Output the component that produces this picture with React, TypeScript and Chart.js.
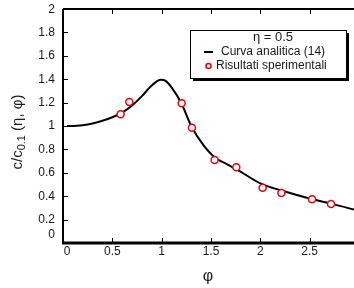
import React, { useEffect, useRef } from "react";
import { Chart, registerables } from "chart.js";

Chart.register(...registerables);

const curveX = [0.04, 0.1, 0.2, 0.3, 0.4, 0.5, 0.6, 0.7, 0.8, 0.88, 0.94, 0.99, 1.04, 1.1, 1.2, 1.3, 1.42, 1.54, 1.66, 1.76, 2.0, 2.25, 2.5, 2.75, 2.95];
const curveY = [1.0, 1.0, 1.007, 1.022, 1.045, 1.075, 1.115, 1.175, 1.255, 1.33, 1.375, 1.395, 1.385, 1.33, 1.195, 1.0, 0.84, 0.73, 0.675, 0.63, 0.51, 0.44, 0.38, 0.33, 0.285];

const expX = [0.584, 0.672, 1.203, 1.307, 1.537, 1.757, 2.024, 2.214, 2.525, 2.717];
const expY = [1.1, 1.205, 1.194, 0.986, 0.709, 0.647, 0.473, 0.427, 0.373, 0.333];

const xTicks = [0, 0.5, 1, 1.5, 2, 2.5];
const xTickLabels = ["0", "0.5", "1", "1.5", "2", "2.5"];
const yTicks = [0, 0.2, 0.4, 0.6, 0.8, 1, 1.2, 1.4, 1.6, 1.8, 2];
const yTickLabels = ["0", "0.2", "0.4", "0.6", "0.8", "1", "1.2", "1.4", "1.6", "1.8", "2"];

const legendTitle = "η = 0.5";
const seriesNames = ["Curva analitica (14)", "Risultati sperimentali"];

const FONT = "'Liberation Sans', Arial, sans-serif";
const TXT = "#1a1a1a";

const framePlugin = {
  id: "frame",
  afterDraw(chart: any) {
    const ctx = chart.ctx;
    const xs = chart.scales.x;
    const ys = chart.scales.y;
    const a = chart.chartArea;
    ctx.save();
    // axes
    ctx.strokeStyle = "#000";
    ctx.lineWidth = 2;
    ctx.beginPath();
    ctx.moveTo(a.left, a.top);
    ctx.lineTo(a.right, a.top);
    ctx.stroke();
    ctx.beginPath();
    ctx.moveTo(a.left, a.top);
    ctx.lineTo(a.left, a.bottom);
    ctx.stroke();
    ctx.lineWidth = 3;
    ctx.beginPath();
    ctx.moveTo(a.left - 1, a.bottom);
    ctx.lineTo(a.right, a.bottom);
    ctx.stroke();
    // inward ticks
    ctx.lineWidth = 1;
    xTicks.forEach((v) => {
      if (v === 0) return;
      const px = Math.round(xs.getPixelForValue(v)) + 0.5;
      ctx.beginPath();
      ctx.moveTo(px, a.bottom);
      ctx.lineTo(px, a.bottom - 5);
      ctx.moveTo(px, a.top);
      ctx.lineTo(px, a.top + 5);
      ctx.stroke();
    });
    yTicks.forEach((v) => {
      if (v === 0 || v === 2) return;
      const py = Math.round(ys.getPixelForValue(v)) + 0.5;
      ctx.beginPath();
      ctx.moveTo(a.left, py);
      ctx.lineTo(a.left + 5, py);
      ctx.stroke();
    });
    // tick labels
    ctx.fillStyle = TXT;
    ctx.font = `12px ${FONT}`;
    ctx.textAlign = "center";
    ctx.textBaseline = "middle";
    xTicks.forEach((v, i) => {
      const px = xs.getPixelForValue(v) + (v === 0 ? 4 : 0);
      ctx.fillText(xTickLabels[i], px, a.bottom + 9);
    });
    ctx.textAlign = "right";
    yTicks.forEach((v, i) => {
      const py = ys.getPixelForValue(v) + (v === 0 ? -8 : v === 2 ? 1 : 0);
      ctx.fillText(yTickLabels[i], a.left - 8, py);
    });
    // x title
    ctx.font = `16px ${FONT}`;
    ctx.textAlign = "center";
    ctx.fillText("φ", 208, 277);
    // y title rotated with subscript
    ctx.save();
    ctx.translate(17, 132);
    ctx.rotate(-Math.PI / 2);
    const big = `15px ${FONT}`;
    const small = `11px ${FONT}`;
    const p1 = "c/c";
    const p2 = "0.1";
    const p3 = " (η, φ)";
    ctx.font = big;
    const w1 = ctx.measureText(p1).width;
    const w3 = ctx.measureText(p3).width;
    ctx.font = small;
    const w2 = ctx.measureText(p2).width;
    const total = w1 + w2 + w3;
    let x0 = -total / 2;
    ctx.textAlign = "left";
    ctx.textBaseline = "alphabetic";
    ctx.font = big;
    ctx.fillText(p1, x0, 5);
    x0 += w1;
    ctx.font = small;
    ctx.fillText(p2, x0, 8);
    x0 += w2;
    ctx.font = big;
    ctx.fillText(p3, x0, 5);
    ctx.restore();
    // legend
    const lx = 190, ly = 30, lw = 156, lh = 48;
    ctx.fillStyle = "#000";
    ctx.fillRect(lx + 3, ly + 3, lw, lh);
    ctx.fillStyle = "#fff";
    ctx.fillRect(lx, ly, lw, lh);
    ctx.strokeStyle = "#000";
    ctx.lineWidth = 1;
    ctx.strokeRect(lx + 0.5, ly + 0.5, lw, lh);
    ctx.fillStyle = TXT;
    ctx.textBaseline = "middle";
    ctx.textAlign = "center";
    ctx.font = `13px ${FONT}`;
    ctx.fillText(legendTitle, 273, 37);
    ctx.textAlign = "left";
    ctx.font = `12px ${FONT}`;
    ctx.fillText(seriesNames[0], 221, 52);
    ctx.fillText(seriesNames[1], 216, 66);
    ctx.strokeStyle = "#000";
    ctx.lineWidth = 2;
    ctx.beginPath();
    ctx.moveTo(204, 52);
    ctx.lineTo(213, 52);
    ctx.stroke();
    ctx.strokeStyle = "#e00";
    ctx.lineWidth = 1.5;
    ctx.beginPath();
    ctx.arc(208.5, 66, 2.5, 0, Math.PI * 2);
    ctx.stroke();
    ctx.restore();
  },
};

export default function App() {
  const ref = useRef<HTMLCanvasElement | null>(null);
  useEffect(() => {
    if (!ref.current) return;
    const chart = new Chart(ref.current, {
      type: "scatter",
      data: {
        datasets: [
          {
            type: "scatter",
            label: seriesNames[1],
            data: expX.map((x, i) => ({ x, y: expY[i] })),
            pointRadius: 3.5,
            pointBorderWidth: 1.5,
            pointBorderColor: "#e00",
            pointBackgroundColor: "#fff",
            order: 0,
          },
          {
            type: "line",
            label: seriesNames[0],
            data: curveX.map((x, i) => ({ x, y: curveY[i] })),
            borderColor: "#000",
            borderWidth: 2,
            pointRadius: 0,
            cubicInterpolationMode: "monotone",
            fill: false,
            order: 1,
          } as any,
        ],
      },
      options: {
        responsive: false,
        animation: false,
        layout: { autoPadding: false, padding: { left: 0, right: 0, top: 9, bottom: 0 } },
        plugins: { legend: { display: false }, tooltip: { enabled: false } },
        scales: {
          x: {
            type: "linear",
            min: 0,
            max: 2.95,
            grid: { display: false },
            border: { display: false },
            ticks: { display: false },
            afterFit: (s: any) => {
              s.height = 45;
            },
          },
          y: {
            type: "linear",
            min: 0,
            max: 2,
            grid: { display: false },
            border: { display: false },
            ticks: { display: false },
            afterFit: (s: any) => {
              s.width = 63;
            },
          },
        },
      } as any,
      plugins: [framePlugin],
    });
    return () => chart.destroy();
  }, []);
  return (
    <div style={{ position: "fixed", left: 0, top: 0, width: 354, height: 288, background: "#fff" }}>
      <canvas ref={ref} width={354} height={288} style={{ display: "block" }} />
    </div>
  );
}
